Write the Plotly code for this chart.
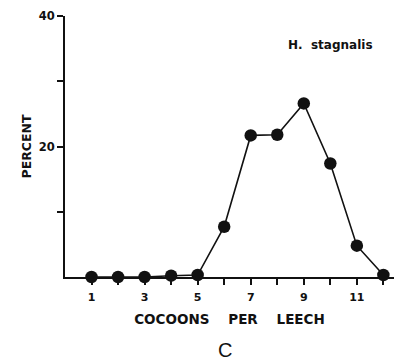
import plotly.graph_objects as go

cocoons = [1, 2, 3, 4, 5, 6, 7, 8, 9, 10, 11, 12]
percent = [0, 0, 0, 0.2, 0.3, 7.7, 21.7, 21.8, 26.6, 17.4, 4.8, 0.3]

x_tick_vals = list(range(1, 13))
x_tick_text = ["1", "", "3", "", "5", "", "7", "", "9", "", "11", ""]
y_tick_vals = [10, 20, 30, 40]
y_tick_text = ["", "20", "", "40"]

fig = go.Figure()
fig.add_trace(go.Scatter(
    x=cocoons, y=percent, mode="lines+markers",
    line=dict(color="#111", width=1.6),
    marker=dict(color="#111", size=12.5),
    cliponaxis=False, showlegend=False,
))

bold = dict(family="DejaVu Sans, sans-serif", color="#111", weight="bold")

fig.update_layout(
    width=398, height=364,
    margin=dict(l=65, r=4, t=16, b=87),
    paper_bgcolor="white", plot_bgcolor="white",
    xaxis=dict(
        range=[0, 12.4], showgrid=False, zeroline=False,
        showline=True, linecolor="#111", linewidth=2,
        tickmode="array", tickvals=x_tick_vals, ticktext=x_tick_text,
        ticks="outside", ticklen=6, tickwidth=1.5, tickcolor="#111",
        ticklabelstandoff=3,
        tickfont=dict(size=11, **bold),
        title=dict(text="COCOONS&nbsp;&nbsp;&nbsp;&nbsp;PER&nbsp;&nbsp;&nbsp;&nbsp;LEECH",
                   font=dict(size=13.5, **bold), standoff=11),
    ),
    yaxis=dict(
        range=[0, 40], showgrid=False, zeroline=False,
        showline=True, linecolor="#111", linewidth=2,
        tickmode="array", tickvals=y_tick_vals, ticktext=y_tick_text,
        ticks="outside", ticklen=6, tickwidth=1.5, tickcolor="#111",
        tickfont=dict(size=11.5, **bold),
        title=dict(text="PERCENT", font=dict(size=12.5, **bold), standoff=4),
    ),
    annotations=[
        dict(text="H.&nbsp;&nbsp;stagnalis", xref="paper", yref="paper",
             x=(330 - 65) / 329, y=(277 - 45) / 261,
             xanchor="center", yanchor="middle", showarrow=False,
             font=dict(size=12, **bold)),
        dict(text="C", xref="paper", yref="paper",
             x=(225 - 65) / 329, y=(277 - 350) / 261,
             xanchor="center", yanchor="middle", showarrow=False,
             font=dict(size=20, family="Liberation Sans, Arial, sans-serif", color="#111")),
    ],
)

fig.write_html("out.html")
